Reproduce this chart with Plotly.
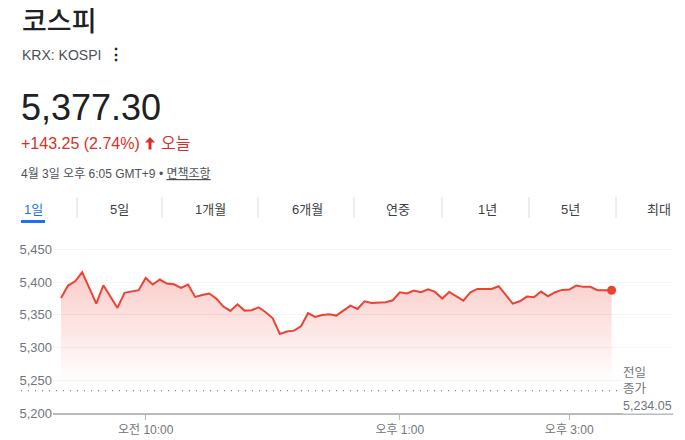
import pandas as pd
import plotly.graph_objects as go

# ---------------- data ----------------
title_text = "코스피"
ticker_text = "KRX: KOSPI"
price_text = "5,377.30"
change_text = "+143.25 (2.74%)"
change_suffix = "오늘"
date_text = "4월 3일 오후 6:05 GMT+9 • "
disclaimer_text = "면책조항"
tabs = ["1일", "5일", "1개월", "6개월", "연중", "1년", "5년", "최대"]
prev_close = 5234.05
prev_close_label = ["전일", "종가", "5,234.05"]

values = [5376.0, 5394.9, 5401.5, 5415.3, 5391.3, 5367.3, 5395.4, 5377.0, 5360.7, 5383.7,
          5385.7, 5387.8, 5406.6, 5396.4, 5404.1, 5398.0, 5396.9, 5391.3, 5396.4, 5377.6,
          5380.6, 5382.7, 5375.0, 5362.8, 5356.1, 5366.3, 5356.6, 5357.1, 5361.7, 5354.1,
          5344.9, 5320.9, 5324.5, 5326.0, 5332.7, 5352.6, 5346.9, 5350.0, 5351.0, 5349.0,
          5356.6, 5364.3, 5359.2, 5370.9, 5368.4, 5368.4, 5369.4, 5372.4, 5384.7, 5382.7,
          5387.2, 5384.7, 5389.3, 5385.2, 5375.0, 5385.2, 5378.6, 5371.9, 5384.7, 5389.8,
          5389.8, 5389.8, 5393.9, 5381.1, 5367.3, 5370.9, 5378.1, 5377.0, 5385.7, 5378.6,
          5384.7, 5388.3, 5388.8, 5394.9, 5392.9, 5392.9, 5387.8, 5387.8, 5387.8]
times = pd.date_range("2026-04-03 09:00", periods=len(values), freq="5min")

x_tickvals = ["2026-04-03 10:00", "2026-04-03 13:00", "2026-04-03 15:00"]
x_ticktext = ["오전 10:00", "오후 1:00", "오후 3:00"]
y_tickvals = [5200, 5250, 5300, 5350, 5400, 5450]
y_ticktext = ["5,200", "5,250", "5,300", "5,350", "5,400", "5,450"]

# ---------------- layout helpers ----------------
# the page body has an 8px default margin, so figure coordinates = screen - 8
OFF = 8
W, H = 685, 440
PLOT_L, PLOT_R, PLOT_T, PLOT_B = 53, 673, 243, 413   # on-screen plot box
ML = PLOT_L - OFF
MR = W - (PLOT_R - OFF)
MT = PLOT_T - OFF
MB = H - (PLOT_B - OFF)
PW, PH = PLOT_R - PLOT_L, PLOT_B - PLOT_T
FONT = "Arial, 'Liberation Sans', 'Noto Sans CJK KR', sans-serif"
RED = "#d93025"
LINE_RED = "#ea4335"


def px(xpix):
    return (xpix - PLOT_L) / PW


def py(ypix):
    return (PLOT_B - ypix) / PH


fig = go.Figure()
fig.add_trace(go.Scatter(
    x=times, y=values, mode="lines",
    line=dict(color=LINE_RED, width=2),
    fill="tozeroy",
    fillgradient=dict(type="vertical", start=5245, stop=5420,
                      colorscale=[[0, "rgba(234,67,53,0)"], [1, "rgba(234,67,53,0.28)"]]),
    hoverinfo="skip", showlegend=False,
))
fig.add_trace(go.Scatter(
    x=[times[-1]], y=[values[-1]], mode="markers",
    marker=dict(color=LINE_RED, size=9),
    hoverinfo="skip", showlegend=False,
))

ann = []


def text(x, y, s, size, color, anchor="left", weight=None, **kw):
    f = dict(family=FONT, size=size, color=color)
    if weight:
        f["weight"] = weight
    ann.append(dict(x=px(x), y=py(y), xref="paper", yref="paper", text=s, showarrow=False,
                    xanchor=anchor, yanchor="middle", font=f, **kw))


text(20, 22, title_text, 27, "#202124", weight=500)
text(20, 55, ticker_text, 14, "#4d5156")
text(116, 54, "⋮", 16, "#202124", anchor="center", weight=700)
text(19, 107, price_text, 36, "#202124")
text(19, 143, change_text, 16, RED)
text(159, 143, change_suffix, 16, RED)
text(19, 173, date_text + "<u>" + disclaimer_text + "</u>", 12, "#4d5156")

tab_centers = [33, 119, 210, 307, 398, 487, 570, 659]
for i, (t, cx) in enumerate(zip(tabs, tab_centers)):
    text(cx, 209, t, 13, "#1a73e8" if i == 0 else "#3c4043", anchor="center")

text(622, 389, "<br>".join(prev_close_label), 12.5, "#70757a", align="left",
     bgcolor="white", borderpad=0)

shapes = []
# separators between tabs
for sx in [77, 162, 258, 354, 442, 529, 616]:
    shapes.append(dict(type="line", xref="paper", yref="paper", x0=px(sx), x1=px(sx),
                       y0=py(197), y1=py(218), line=dict(color="#dadce0", width=1)))
# active tab underline
shapes.append(dict(type="rect", xref="paper", yref="paper", x0=px(21), x1=px(45),
                   y0=py(223), y1=py(220), fillcolor="#1a73e8", line=dict(width=0)))
# up arrow icon
ax0, ay0 = 145, 137
arrow = [(ax0 + 5, ay0), (ax0 + 10, ay0 + 5.5), (ax0 + 6.5, ay0 + 5.5), (ax0 + 6.5, ay0 + 12.5),
         (ax0 + 3.5, ay0 + 12.5), (ax0 + 3.5, ay0 + 5.5), (ax0, ay0 + 5.5)]
path = "M " + " L ".join(f"{px(a):.5f},{py(b):.5f}" for a, b in arrow) + " Z"
shapes.append(dict(type="path", xref="paper", yref="paper", path=path,
                   fillcolor=RED, line=dict(width=0)))
# previous close dotted line
shapes.append(dict(type="line", xref="paper", yref="y", x0=px(21), x1=px(617),
                   y0=prev_close, y1=prev_close,
                   line=dict(color="#5f6368", width=1, dash="1px,6px")))

fig.update_layout(
    width=W, height=H,
    margin=dict(l=ML, r=MR, t=MT, b=MB, pad=0, autoexpand=False),
    paper_bgcolor="white", plot_bgcolor="white",
    font=dict(family=FONT),
    annotations=ann, shapes=shapes,
    xaxis=dict(type="date", range=["2026-04-03 08:54:20", "2026-04-03 16:13:30"],
               tickvals=x_tickvals, ticktext=x_ticktext, automargin=False,
               ticks="outside", ticklen=5, tickwidth=1, tickcolor="#b8babe",
               showline=True, linecolor="#b8babe", linewidth=2,
               showgrid=False, zeroline=False,
               tickfont=dict(size=12, color="#70757a", family=FONT), fixedrange=True),
    yaxis=dict(range=[5200, 5460], tickvals=y_tickvals, ticktext=y_ticktext,
               automargin=False,
               showgrid=True, gridcolor="#f1f3f4", gridwidth=1, zeroline=False,
               showline=False, ticks="",
               tickfont=dict(size=13, color="#70757a", family=FONT), fixedrange=True),
)

fig.write_html("out.html")
